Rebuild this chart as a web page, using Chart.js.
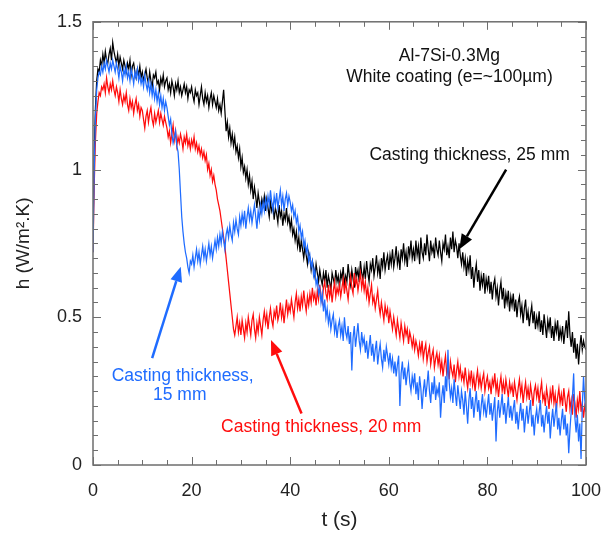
<!DOCTYPE html>
<html>
<head>
<meta charset="utf-8">
<script src="https://cdn.jsdelivr.net/npm/chart.js@4/dist/chart.umd.min.js"></script>
<style>
  html, body { margin: 0; padding: 0; background: #fff; }
  #wrap { width: 616px; height: 538px; }
</style>
</head>
<body>
<div id="wrap"><canvas id="myChart" width="616" height="538"></canvas></div>
<script>
// sampling step of the recorded curves (s)
var dt = 0.25;

// h (W/m2.K), casting thickness 25 mm, one row = 5 s
var h25 = [
  0.78,1.06,1.21,1.30,1.34,1.33,1.37,1.35,1.39,1.36,1.40,1.37,1.36,1.39,1.41,1.37,1.43,1.40,1.38,1.36,
  1.39,1.35,1.38,1.36,1.34,1.37,1.35,1.33,1.36,1.34,1.37,1.32,1.35,1.36,1.33,1.31,1.34,1.32,1.35,1.31,
  1.33,1.30,1.32,1.34,1.31,1.29,1.33,1.30,1.28,1.32,1.31,1.33,1.29,1.30,1.27,1.31,1.29,1.32,1.28,1.30,
  1.31,1.27,1.29,1.26,1.30,1.28,1.25,1.29,1.27,1.30,1.26,1.28,1.25,1.27,1.29,1.26,1.28,1.24,1.27,1.26,
  1.28,1.25,1.23,1.27,1.25,1.26,1.22,1.25,1.28,1.24,1.22,1.26,1.23,1.25,1.21,1.24,1.26,1.22,1.25,1.23,
  1.21,1.24,1.20,1.22,1.19,1.23,1.27,1.20,1.13,1.16,1.11,1.14,1.09,1.12,1.08,1.11,1.06,1.08,1.04,1.07,
  1.01,1.04,0.99,1.01,0.97,1.00,0.95,0.98,0.93,0.96,0.90,0.94,0.91,0.87,0.92,0.89,0.86,0.90,0.88,0.91,
  0.86,0.90,0.87,0.84,0.89,0.86,0.88,0.83,0.87,0.85,0.82,0.88,0.84,0.86,0.81,0.85,0.83,0.87,0.82,0.84,
  0.80,0.83,0.78,0.80,0.76,0.79,0.74,0.77,0.72,0.76,0.73,0.70,0.74,0.71,0.68,0.72,0.70,0.66,0.69,0.67,
  0.64,0.68,0.65,0.62,0.66,0.63,0.61,0.65,0.62,0.66,0.60,0.64,0.62,0.59,0.65,0.63,0.61,0.66,0.62,0.64,
  0.60,0.65,0.63,0.67,0.61,0.64,0.62,0.68,0.64,0.61,0.66,0.63,0.60,0.67,0.64,0.66,0.62,0.69,0.65,0.63,
  0.67,0.63,0.69,0.65,0.62,0.68,0.66,0.70,0.64,0.67,0.71,0.65,0.68,0.63,0.70,0.67,0.72,0.66,0.69,0.71,
  0.66,0.71,0.68,0.73,0.67,0.70,0.74,0.68,0.71,0.66,0.73,0.70,0.75,0.69,0.72,0.67,0.74,0.71,0.76,0.70,
  0.73,0.69,0.76,0.71,0.74,0.68,0.77,0.72,0.70,0.75,0.71,0.78,0.73,0.69,0.76,0.72,0.74,0.70,0.77,0.73,
  0.71,0.76,0.72,0.69,0.75,0.73,0.78,0.71,0.74,0.70,0.77,0.73,0.79,0.72,0.76,0.74,0.70,0.75,0.71,0.68,
  0.72,0.67,0.70,0.64,0.69,0.66,0.71,0.63,0.67,0.60,0.65,0.68,0.62,0.66,0.59,0.64,0.61,0.65,0.58,0.63,
  0.60,0.64,0.58,0.62,0.56,0.61,0.63,0.57,0.60,0.54,0.59,0.62,0.56,0.60,0.53,0.58,0.55,0.59,0.52,0.57,
  0.54,0.58,0.52,0.56,0.50,0.55,0.57,0.51,0.54,0.48,0.53,0.56,0.49,0.52,0.47,0.51,0.54,0.48,0.52,0.46,
  0.50,0.47,0.52,0.45,0.49,0.44,0.51,0.47,0.43,0.49,0.46,0.50,0.43,0.47,0.42,0.48,0.45,0.49,0.42,0.46,
  0.43,0.47,0.41,0.45,0.49,0.43,0.52,0.44,0.40,0.45,0.38,0.43,0.36,0.41,0.34,0.40,0.44,0.39,0.42,0.40,
  0.39
];

// casting thickness 20 mm
var h20 = [
  0.72,0.95,1.10,1.19,1.23,1.26,1.25,1.28,1.27,1.29,1.26,1.31,1.28,1.26,1.29,1.27,1.30,1.27,1.25,1.28,
  1.26,1.23,1.27,1.24,1.22,1.25,1.23,1.26,1.22,1.20,1.24,1.21,1.23,1.19,1.22,1.24,1.20,1.22,1.18,1.21,
  1.20,1.17,1.14,1.18,1.20,1.16,1.19,1.21,1.17,1.15,1.19,1.16,1.18,1.20,1.16,1.19,1.17,1.15,1.18,1.16,
  1.14,1.11,1.13,1.09,1.12,1.15,1.10,1.13,1.08,1.11,1.09,1.12,1.10,1.07,1.11,1.09,1.12,1.08,1.10,1.07,
  1.10,1.08,1.11,1.07,1.09,1.06,1.08,1.05,1.07,1.04,1.06,1.03,1.05,1.00,1.02,0.98,1.00,0.96,0.98,0.95,
  0.93,0.90,0.88,0.86,0.83,0.80,0.77,0.74,0.70,0.66,0.62,0.58,0.54,0.50,0.46,0.44,0.47,0.50,0.45,0.48,
  0.44,0.49,0.46,0.43,0.48,0.45,0.50,0.47,0.44,0.49,0.51,0.46,0.43,0.48,0.45,0.50,0.47,0.44,0.49,0.52,
  0.48,0.51,0.46,0.50,0.53,0.49,0.47,0.52,0.50,0.54,0.49,0.51,0.55,0.50,0.53,0.48,0.52,0.56,0.51,0.54,
  0.52,0.56,0.53,0.50,0.55,0.58,0.53,0.56,0.52,0.57,0.54,0.59,0.55,0.52,0.57,0.54,0.58,0.55,0.60,0.56,
  0.58,0.54,0.59,0.56,0.61,0.57,0.55,0.60,0.62,0.58,0.56,0.61,0.57,0.60,0.55,0.59,0.62,0.57,0.60,0.58,
  0.61,0.57,0.60,0.63,0.58,0.62,0.59,0.56,0.61,0.64,0.60,0.58,0.65,0.61,0.63,0.59,0.62,0.65,0.60,0.63,
  0.59,0.62,0.57,0.60,0.55,0.58,0.61,0.55,0.57,0.53,0.56,0.59,0.54,0.51,0.55,0.52,0.49,0.54,0.51,0.53,
  0.48,0.52,0.49,0.46,0.50,0.47,0.44,0.49,0.46,0.43,0.48,0.45,0.42,0.47,0.44,0.46,0.41,0.45,0.43,0.40,
  0.43,0.39,0.42,0.40,0.37,0.41,0.38,0.42,0.36,0.39,0.41,0.35,0.38,0.40,0.34,0.37,0.39,0.33,0.36,0.38,
  0.34,0.37,0.32,0.35,0.30,0.34,0.37,0.31,0.33,0.29,0.35,0.32,0.30,0.34,0.28,0.32,0.35,0.30,0.33,0.29,
  0.31,0.28,0.33,0.29,0.26,0.31,0.28,0.32,0.27,0.30,0.25,0.29,0.32,0.27,0.30,0.26,0.29,0.31,0.25,0.28,
  0.30,0.26,0.28,0.24,0.29,0.27,0.31,0.25,0.28,0.23,0.27,0.30,0.25,0.28,0.24,0.29,0.26,0.23,0.28,0.25,
  0.27,0.23,0.28,0.25,0.22,0.26,0.29,0.24,0.27,0.21,0.25,0.28,0.23,0.26,0.22,0.27,0.24,0.20,0.25,0.27,
  0.23,0.26,0.21,0.25,0.28,0.22,0.24,0.20,0.26,0.23,0.19,0.25,0.22,0.27,0.21,0.24,0.19,0.23,0.26,0.21,
  0.24,0.20,0.26,0.22,0.18,0.23,0.25,0.19,0.22,0.17,0.24,0.21,0.16,0.22,0.19,0.25,0.18,0.21,0.16,0.20,
  0.18
];

// casting thickness 15 mm
var h15 = [
  0.72,1.00,1.18,1.27,1.31,1.33,1.32,1.35,1.33,1.36,1.34,1.37,1.35,1.33,1.36,1.34,1.37,1.35,1.33,1.36,
  1.34,1.31,1.35,1.33,1.30,1.34,1.32,1.35,1.31,1.33,1.30,1.34,1.32,1.29,1.33,1.31,1.34,1.30,1.32,1.29,
  1.31,1.28,1.32,1.29,1.27,1.30,1.26,1.29,1.25,1.28,1.24,1.27,1.23,1.26,1.22,1.25,1.21,1.24,1.20,1.23,
  1.21,1.18,1.15,1.17,1.12,1.09,1.11,1.13,1.08,1.06,1.00,0.92,0.84,0.79,0.75,0.72,0.70,0.67,0.65,0.69,
  0.68,0.71,0.67,0.70,0.73,0.69,0.72,0.68,0.71,0.74,0.70,0.73,0.69,0.72,0.75,0.71,0.74,0.70,0.73,0.76,
  0.73,0.77,0.74,0.78,0.75,0.79,0.76,0.73,0.78,0.80,0.77,0.81,0.78,0.76,0.82,0.79,0.83,0.80,0.78,0.84,
  0.81,0.85,0.82,0.86,0.80,0.84,0.87,0.83,0.86,0.82,0.85,0.88,0.84,0.80,0.86,0.83,0.88,0.85,0.89,0.86,
  0.90,0.87,0.91,0.88,0.93,0.89,0.86,0.91,0.88,0.92,0.87,0.90,0.93,0.88,0.91,0.86,0.90,0.92,0.88,0.91,
  0.89,0.86,0.88,0.84,0.86,0.82,0.84,0.79,0.81,0.77,0.79,0.74,0.76,0.72,0.74,0.69,0.71,0.67,0.69,0.64,
  0.66,0.61,0.63,0.58,0.60,0.55,0.58,0.52,0.56,0.50,0.53,0.48,0.51,0.46,0.49,0.51,0.45,0.48,0.43,0.47,
  0.49,0.44,0.47,0.42,0.50,0.45,0.43,0.47,0.41,0.45,0.32,0.43,0.47,0.40,0.44,0.48,0.42,0.39,0.45,0.41,
  0.43,0.38,0.42,0.36,0.40,0.44,0.37,0.41,0.35,0.39,0.42,0.34,0.38,0.41,0.36,0.33,0.39,0.35,0.40,0.37,
  0.34,0.38,0.33,0.36,0.31,0.35,0.30,0.34,0.37,0.20,0.31,0.35,0.29,0.33,0.27,0.31,0.34,0.28,0.25,0.30,
  0.27,0.31,0.24,0.28,0.22,0.30,0.26,0.19,0.25,0.29,0.23,0.27,0.32,0.25,0.21,0.28,0.24,0.30,0.22,0.26,
  0.24,0.28,0.16,0.23,0.27,0.21,0.30,0.25,0.39,0.28,0.23,0.26,0.21,0.29,0.24,0.20,0.27,0.23,0.19,0.25,
  0.22,0.17,0.25,0.20,0.14,0.22,0.26,0.19,0.23,0.16,0.21,0.25,0.18,0.22,0.15,0.20,0.24,0.18,0.21,0.16,
  0.20,0.24,0.17,0.21,0.15,0.19,0.23,0.08,0.18,0.22,0.16,0.20,0.24,0.17,0.21,0.14,0.19,0.23,0.16,0.20,
  0.15,0.19,0.22,0.14,0.18,0.12,0.17,0.21,0.15,0.19,0.11,0.16,0.20,0.14,0.18,0.22,0.13,0.17,0.10,0.16,
  0.19,0.14,0.18,0.22,0.13,0.17,0.11,0.16,0.20,0.14,0.18,0.09,0.15,0.19,0.13,0.17,0.21,0.12,0.16,0.10,
  0.15,0.19,0.12,0.17,0.10,0.14,0.04,0.12,0.18,0.23,0.31,0.16,0.11,0.17,0.08,0.14,0.02,0.20,0.30,0.22,
  0.18
];

var BLUE = "#1f6cff";
var RED = "#ff0d0d";
var FONT = "'Liberation Sans', Arial, sans-serif";

// text and arrows, placed in data units (t, h)
var notes = [
  { text: "Al-7Si-0.3Mg", t: 72.3, h: 1.383, color: "#111" },
  { text: "White coating (e=~100\u00b5m)", t: 72.3, h: 1.312, color: "#111" },
  { text: "Casting thickness, 25 mm", t: 76.4, h: 1.047, color: "#111" },
  { text: "Casting thickness,", t: 18.2, h: 0.302, color: BLUE },
  { text: "15 mm", t: 17.6, h: 0.235, color: BLUE },
  { text: "Casting thickness, 20 mm", t: 46.3, h: 0.128, color: RED }
];
var arrows = [
  { from: [83.8, 1.00], to: [74.3, 0.73], color: "#000" },
  { from: [12.0, 0.362], to: [17.8, 0.671], color: BLUE },
  { from: [42.3, 0.174], to: [36.1, 0.423], color: RED }
];

function toPoints(arr) {
  return arr.map(function (v, i) { return { x: i * dt, y: v }; });
}

var framePlugin = {
  id: "frame",
  afterDatasetsDraw: function (chart) {
    var ctx = chart.ctx, a = chart.chartArea;
    var xs = chart.scales.x, ys = chart.scales.y;
    ctx.save();
    ctx.strokeStyle = "#6e6e6e";
    ctx.lineWidth = 1.5;
    ctx.strokeRect(a.left, a.top, a.right - a.left, a.bottom - a.top);

    // inward ticks on all four sides
    ctx.lineWidth = 1;
    ctx.beginPath();
    for (var t = 0; t <= 100; t += 5) {
      var px = Math.round(xs.getPixelForValue(t)) + 0.5;
      var len = (t % 20 === 0) ? 8 : 5;
      ctx.moveTo(px, a.bottom); ctx.lineTo(px, a.bottom - len);
      ctx.moveTo(px, a.top); ctx.lineTo(px, a.top + len);
    }
    for (var i = 0; i <= 30; i++) {
      var py = Math.round(ys.getPixelForValue(i * 0.05)) + 0.5;
      var l2 = (i % 10 === 0) ? 8 : 5;
      ctx.moveTo(a.left, py); ctx.lineTo(a.left + l2, py);
      ctx.moveTo(a.right, py); ctx.lineTo(a.right - l2, py);
    }
    ctx.stroke();

    // annotations
    ctx.font = "17.5px " + FONT;
    ctx.textAlign = "center";
    ctx.textBaseline = "middle";
    notes.forEach(function (n) {
      ctx.fillStyle = n.color;
      ctx.fillText(n.text, xs.getPixelForValue(n.t), ys.getPixelForValue(n.h));
    });

    arrows.forEach(function (ar) {
      var x0 = xs.getPixelForValue(ar.from[0]), y0 = ys.getPixelForValue(ar.from[1]);
      var x1 = xs.getPixelForValue(ar.to[0]), y1 = ys.getPixelForValue(ar.to[1]);
      var ang = Math.atan2(y1 - y0, x1 - x0);
      var hl = 15, hw = 6;
      var bx = x1 - hl * Math.cos(ang), by = y1 - hl * Math.sin(ang);
      ctx.strokeStyle = ar.color;
      ctx.fillStyle = ar.color;
      ctx.lineWidth = 2.5;
      ctx.beginPath();
      ctx.moveTo(x0, y0);
      ctx.lineTo(bx, by);
      ctx.stroke();
      ctx.beginPath();
      ctx.moveTo(x1, y1);
      ctx.lineTo(bx + hw * Math.sin(ang), by - hw * Math.cos(ang));
      ctx.lineTo(bx - hw * Math.sin(ang), by + hw * Math.cos(ang));
      ctx.closePath();
      ctx.fill();
    });
    ctx.restore();
  }
};

var ctx = document.getElementById("myChart");

var data = {
  datasets: [
    { label: "25 mm", data: toPoints(h25), borderColor: "#000", order: 3 },
    { label: "20 mm", data: toPoints(h20), borderColor: RED, order: 2 },
    { label: "15 mm", data: toPoints(h15), borderColor: BLUE, order: 1 }
  ]
};

var tickFont = { family: FONT, size: 18 };

var options = {
  responsive: false,
  animation: false,
  layout: { padding: { left: 0, right: 22, top: 18, bottom: 0 } },
  elements: {
    line: { borderWidth: 1.25, tension: 0 },
    point: { radius: 0 }
  },
  plugins: { legend: { display: false }, tooltip: { enabled: false } },
  scales: {
    x: {
      type: "linear", min: 0, max: 100,
      grid: { display: false, drawTicks: false },
      border: { display: false },
      ticks: { stepSize: 20, color: "#222", font: tickFont, padding: 15, maxRotation: 0 },
      title: { display: true, text: "t (s)", color: "#222",
        font: { family: FONT, size: 21 },
        padding: { top: 0, bottom: 5 } },
      afterFit: function (s) { s.height = 73; }
    },
    y: {
      type: "linear", min: 0, max: 1.5,
      grid: { display: false, drawTicks: false },
      border: { display: false },
      ticks: { stepSize: 0.5, color: "#222", font: tickFont, padding: 11,
        callback: function (v) { return String(v); } },
      title: { display: true, text: "h (W/m\u00b2.K)", color: "#222",
        font: { family: FONT, size: 19 },
        padding: { top: 12, bottom: 0 } },
      afterFit: function (s) { s.width = 93; }
    }
  }
};

var myChart = new Chart(ctx, {
  type: "line",
  data: data,
  options: options,
  plugins: [framePlugin]
});
</script>
</body>
</html>
